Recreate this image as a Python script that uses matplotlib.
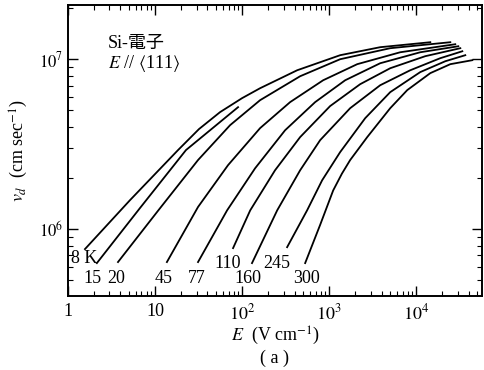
import matplotlib
matplotlib.use("Agg")
import matplotlib.pyplot as plt
import numpy as np

plt.rcParams['font.family'] = ['Liberation Serif', 'Noto Sans CJK JP']
plt.rcParams['mathtext.fontset'] = 'stix'

# Drift velocity curves, Si electrons, E // <111>  (E in V/cm, v in cm/s)
E_8 = [1.57, 5.16, 18.4, 32, 55.8, 100, 161, 429, 1337, 3855, 14490]
v_8 = [7.63e5, 1.48e6, 2.92e6, 3.88e6, 4.88e6, 5.9e6, 6.75e6, 8.61e6, 1.056e7, 1.177e7, 1.259e7]

E_15 = [2.15, 6.72, 22.7, 89.9]
v_15 = [6.31e5, 1.33e6, 2.92e6, 5.22e6]

E_20 = [3.76, 10.8, 31.2, 72.8, 161, 464, 1337, 5023, 24600]
v_20 = [6.40e5, 1.28e6, 2.55e6, 4.09e6, 5.74e6, 7.94e6, 1.0e7, 1.161e7, 1.259e7]

E_45 = [13.7, 31.2, 69.0, 161, 356, 853, 2099, 6546, 28050]
v_45 = [6.40e5, 1.35e6, 2.38e6, 3.93e6, 5.59e6, 7.52e6, 9.35e6, 1.099e7, 1.225e7]

E_77 = [31.2, 67.3, 141, 312, 690, 1527, 3855, 11120, 30400]
v_77 = [6.40e5, 1.29e6, 2.28e6, 3.82e6, 5.59e6, 7.52e6, 9.47e6, 1.099e7, 1.192e7]

E_110 = [78.8, 124, 239, 464, 1026, 2270, 5023, 12690, 32060]
v_110 = [7.73e5, 1.29e6, 2.22e6, 3.48e6, 5.30e6, 7.13e6, 8.85e6, 1.042e7, 1.161e7]

E_160 = [130, 253, 464, 788, 1742, 3855, 8530, 18870, 33800]
v_160 = [6.31e5, 1.29e6, 2.22e6, 3.34e6, 5.15e6, 7.03e6, 8.61e6, 1.014e7, 1.114e7]

E_245 = [329, 558, 831, 1337, 2594, 5023, 11120, 21540, 36560]
v_245 = [7.83e5, 1.29e6, 1.94e6, 2.84e6, 4.50e6, 6.40e6, 8.40e6, 9.73e6, 1.056e7]

E_300 = [530, 788, 1112, 1400, 1742, 2735, 5023, 7880, 14490, 24600, 44030]
v_300 = [6.31e5, 1.06e6, 1.69e6, 2.12e6, 2.55e6, 3.48e6, 5.15e6, 6.58e6, 8.28e6, 9.35e6, 9.87e6]

curves = [(E_8, v_8), (E_15, v_15), (E_20, v_20), (E_45, v_45), (E_77, v_77),
          (E_110, v_110), (E_160, v_160), (E_245, v_245), (E_300, v_300)]

# temperature labels and where they sit
lab_text = ['8 K', '15', '20', '45', '77', '110', '160', '245', '300']
lab_E = [1.41, 1.89, 3.56, 12.4, 30.4, 69, 117, 253, 544]
lab_v = [6.75e5, 5.15e5, 5.15e5, 5.15e5, 5.15e5, 6.31e5, 5.15e5, 6.31e5, 5.15e5]

xticks = [1, 10, 100, 1000, 10000]
xlabels = ['1', '10', '$10^2$', '$10^3$', '$10^4$']
yticks = [1e6, 1e7]
ylabels = ['$10^6$', '$10^7$']

fig = plt.figure(figsize=(4.85, 3.7), dpi=100)
ax = fig.add_axes([0.140, 0.200, 0.854, 0.786])

for E, v in curves:
    ax.plot(E, v, color='black', lw=1.3)

for t, xe, yv in zip(lab_text, lab_E, lab_v):
    if t == '8 K':
        ax.text(1.08, yv, t, ha='left', va='center', fontsize=13)
    else:
        ax.text(xe, yv, t, ha='center', va='center', fontsize=13)

ax.set_xscale('log')
ax.set_yscale('log')
ax.set_xlim(1, 5.7e4)
ax.set_ylim(4.04e5, 2.08e7)

ax.set_xticks(xticks)
ax.set_xticklabels(xlabels, fontsize=13)
ax.set_yticks(yticks)
ax.set_yticklabels(ylabels, fontsize=12)
ax.tick_params(which='both', direction='in', top=True, right=True)
ax.tick_params(which='major', length=7, width=1)
ax.tick_params(which='minor', length=3.5, width=0.8)
ax.tick_params(axis='x', pad=5)
ax.xaxis.set_minor_locator(matplotlib.ticker.LogLocator(base=10, subs=np.arange(2, 10)))
ax.yaxis.set_minor_locator(matplotlib.ticker.LogLocator(base=10, subs=np.arange(2, 10)))
ax.xaxis.set_minor_formatter(matplotlib.ticker.NullFormatter())
ax.yaxis.set_minor_formatter(matplotlib.ticker.NullFormatter())
for s in ax.spines.values():
    s.set_linewidth(1.4)

ax.text(0.097, 0.869, 'Si-電子', transform=ax.transAxes, fontsize=13, va='center')
ax.text(0.097, 0.80, r'$E$ // $\langle$111$\rangle$', transform=ax.transAxes, fontsize=13, va='center')

ax.set_xlabel(r'$E$  (V cm$^{-1}$)', fontsize=13, labelpad=1)
ax.set_ylabel(r'$v_d$  (cm sec$^{-1}$)', fontsize=13, labelpad=6)
fig.text(0.567, 0.032, '( a )', ha='center', va='center', fontsize=13)

fig.savefig('out.png', dpi=100)
